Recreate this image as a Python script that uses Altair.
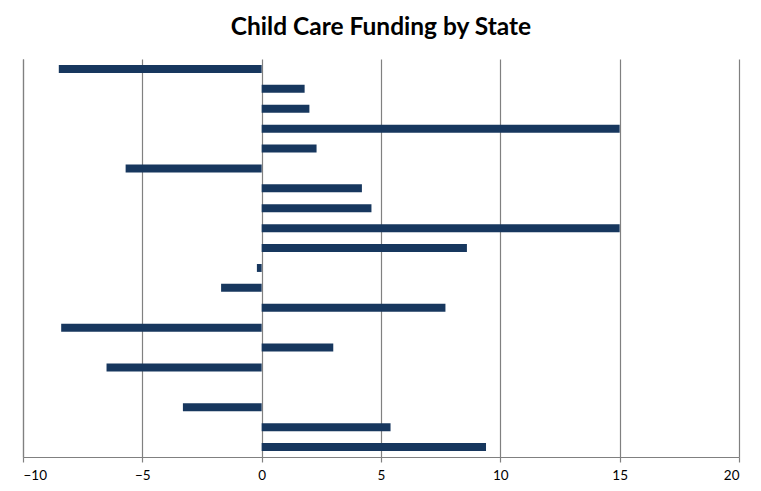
import altair as alt
import pandas as pd

states = [f"S{i:02d}" for i in range(1, 21)]
values = [-8.5, 1.8, 2.0, 15.0, 2.3, -5.7, 4.2, 4.6, 15.0, 8.6,
          -0.2, -1.7, 7.7, -8.4, 3.0, -6.5, 0.0, -3.3, 5.4, 9.4]
x_ticks = [-10, -5, 0, 5, 10, 15, 20]

df = pd.DataFrame({"state": states, "value": values})

chart = alt.Chart(df).mark_bar(color="#17375E").encode(
    x=alt.X("value:Q",
            scale=alt.Scale(domain=[-10, 20], nice=False, zero=False),
            axis=alt.Axis(values=x_ticks, title=None, grid=True, gridColor="#808080",
                          gridWidth=1.2, domainColor="#808080", domainWidth=1.2,
                          tickColor="#808080", tickWidth=1.2,
                          tickSize=5, labelColor="#000000", labelFont="Lato",
                          labelFontSize=13.5, labelBaseline="middle", labelPadding=13)),
    y=alt.Y("state:N", sort=None,
            scale=alt.Scale(paddingInner=0.6, paddingOuter=0.3),
            axis=alt.Axis(labels=False, ticks=False, title=None, grid=False,
                          domainColor="#808080", domainWidth=1.2)),
).properties(
    width=716, height=398,
    title=alt.Title("Child Care Funding by State", font="Lato", fontSize=24.5,
                    fontWeight="bold", color="#000000", anchor="middle",
                    baseline="alphabetic", offset=0),
    autosize=alt.AutoSizeParams(type="none"),
    padding={"left": 15, "top": 51, "right": 13, "bottom": 25},
).configure_view(stroke=None)

chart.save("out.html", embed_options={"renderer": "svg", "actions": False})
